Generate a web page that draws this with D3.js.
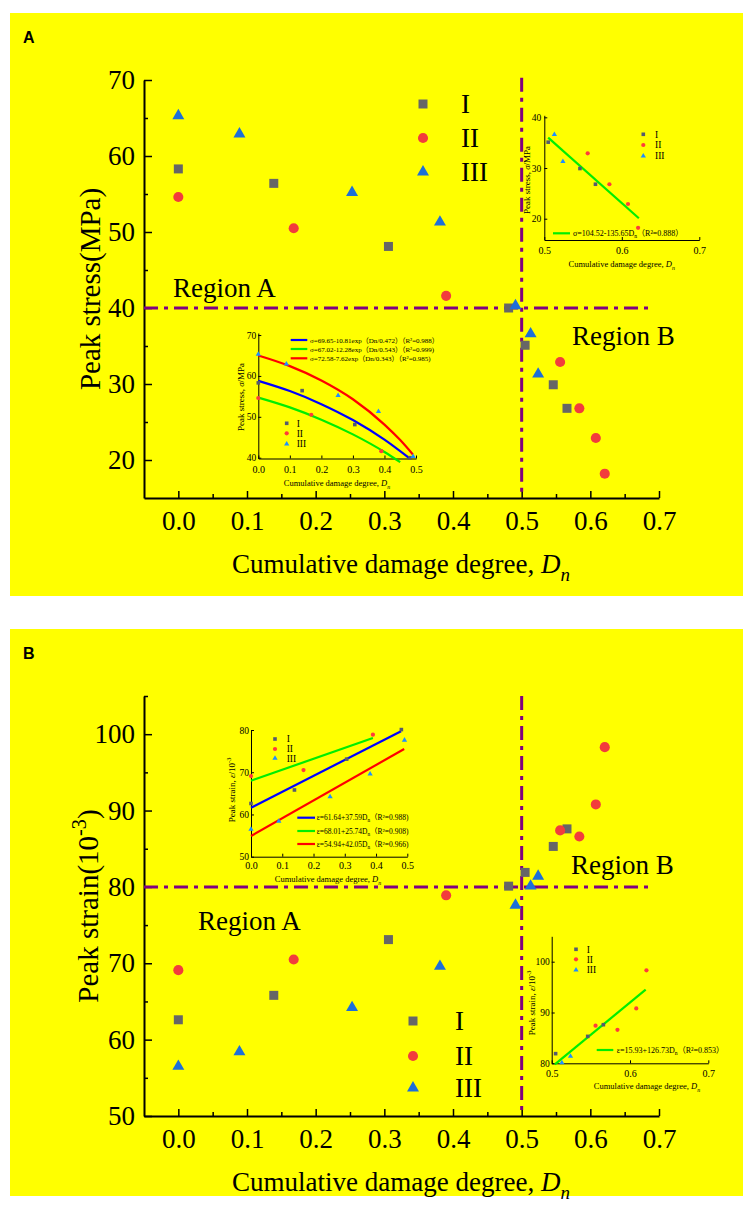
<!DOCTYPE html>
<html><head><meta charset="utf-8">
<script src="https://cdn.jsdelivr.net/npm/d3@7"></script>
<style>body{margin:0;background:#fff;} svg{display:block}</style>
</head><body>
<script>
// ---------------- DATA ----------------
const seriesNames = ["I", "II", "III"];
const dnI   = [0, 0.139, 0.306, 0.481, 0.505, 0.546, 0.566];
const dnII  = [0, 0.168, 0.390, 0.556, 0.584, 0.608, 0.621];
const dnIII = [0, 0.089, 0.253, 0.381, 0.491, 0.513, 0.524];
const stressI   = [58.3, 56.4, 48.1, 40.0, 35.1, 29.9, 26.8];
const stressII  = [54.6, 50.5, 41.6, 32.9, 26.8, 22.9, 18.2];
const stressIII = [65.3, 62.9, 55.2, 51.3, 40.3, 36.6, 31.3];
const strainI   = [62.6, 65.8, 73.1, 80.1, 81.9, 85.3, 87.6];
const strainII  = [69.1, 70.5, 78.9, 87.4, 86.6, 90.8, 98.3];
const strainIII = [56.5, 58.4, 64.2, 69.6, 77.6, 80.1, 81.4];

const xTickVals = [0, 0.1, 0.2, 0.3, 0.4, 0.5, 0.6, 0.7];
const xMinorVals = [0.05, 0.15, 0.25, 0.35, 0.45, 0.55, 0.65];
const stressTicks = [20, 30, 40, 50, 60, 70];
const stressMinor = [25, 35, 45, 55, 65];
const strainTicks = [50, 60, 70, 80, 90, 100];
const strainMinor = [55, 65, 75, 85, 95, 105];
const dnBoundary = 0.5;
const stressBoundary = 40;
const strainBoundary = 80;

// fitted curves, points
const fitStressA_I_dn   = [0, 0.1, 0.2, 0.3, 0.4, 0.48];
const fitStressA_I      = [58.8, 56.3, 53.1, 49.2, 44.4, 39.8];
const fitStressA_II_dn  = [0, 0.1, 0.2, 0.3, 0.4, 0.45];
const fitStressA_II     = [54.7, 52.3, 49.3, 45.7, 41.4, 38.9];
const fitStressA_III_dn = [0, 0.1, 0.2, 0.3, 0.4, 0.45, 0.49];
const fitStressA_III    = [65.0, 62.4, 58.9, 54.3, 48.1, 44.3, 40.8];
const fitStressB_dn = [0.505, 0.622];
const fitStressB    = [36.0, 20.1];
const fitStrainA_I_dn   = [0, 0.48];
const fitStrainA_I      = [61.6, 79.7];
const fitStrainA_II_dn  = [0, 0.39];
const fitStrainA_II     = [68.0, 78.1];
const fitStrainA_III_dn = [0, 0.49];
const fitStrainA_III    = [54.9, 75.5];
const fitStrainB_dn = [0.504, 0.62];
const fitStrainB    = [79.8, 94.5];

const fitLabelsStressA = ["σ=69.65-10.81exp（Dn/0.472）（R²=0.988）",
                          "σ=67.02-12.28exp（Dn/0.543）（R²=0.999)",
                          "σ=72.58-7.62exp（Dn/0.343）（R²=0.985)"];
const fitLabelStressB = ["σ=104.52-135.65D", "n", "（R²=0.888）"];
const fitLabelsStrainA = [["ε=61.64+37.59D", "n", "（R²=0.988)"],
                          ["ε=68.01+25.74D", "n", "（R²=0.908)"],
                          ["ε=54.94+42.05D", "n", "（R²=0.966)"]];
const fitLabelStrainB = ["ε=15.93+126.73D", "n", "（R²=0.853）"];

// ---------------- SETUP ----------------
const W = 753, H = 1206;
const svg = d3.select("body").append("svg").attr("width", W).attr("height", H);
const serif = "'Liberation Serif','Times New Roman','Noto Sans CJK SC',serif";
const purple = "#800080";
const colors = ["#666666", "#f23c3c", "#1d6fd8"];
const insetColors = ["#555b6e", "#ff3b3b", "#1e8fff"];
const symTypes = [d3.symbolSquare, d3.symbolCircle, d3.symbolTriangle];
const mainSizes = [81, 80, 62];
const insetSizes = [13, 14, 12];
const fitColors = ["#0000ff", "#00ee00", "#ff0000"];

function rich(t, segs, fs) {
  let shift = 0;
  segs.forEach(s => {
    const ts = t.append("tspan").text(s.t);
    if (s.i) ts.attr("font-style", "italic");
    const target = s.sub ? fs * 0.3 : (s.sup ? -fs * 0.4 : 0);
    if (target !== shift) { ts.attr("dy", target - shift); shift = target; }
    if (s.sub || s.sup) ts.attr("font-size", fs * 0.7);
  });
}
function sym(g, i, size, color, px, py) {
  g.append("path").attr("d", d3.symbol(symTypes[i], size)())
    .attr("transform", `translate(${px},${py})`).attr("fill", color);
}
function mkPts(dns, vals) { return dns.map((d, j) => ({dn: d, v: vals[j]})); }
function pairs(dns, vals) { return dns.map((d, j) => [d, vals[j]]); }

function styleAxis(a, fs, sw) {
  a.selectAll("path.domain").attr("stroke", "#000").attr("stroke-width", sw);
  a.selectAll(".tick line").attr("stroke", "#000").attr("stroke-width", Math.max(1, sw * 0.75));
  a.selectAll("text").attr("font-family", serif).attr("font-size", fs).attr("fill", "#000");
}

// ---------------- MAIN PANEL ----------------
function panel(o) {
  const g = svg.append("g");
  g.append("rect").attr("x", 10).attr("y", o.top).attr("width", 733).attr("height", o.h).attr("fill", "#ffff00");
  g.append("text").attr("x", 23).attr("y", o.top + 30).text(o.letter)
    .attr("font-family", "'Liberation Sans',Arial,sans-serif").attr("font-weight", "bold").attr("font-size", 16);

  const x = d3.scaleLinear().domain([-0.05, 0.7]).range([144, 659]);
  const y = d3.scaleLinear().domain(o.yDomain).range([o.yBottom, o.yTop]);

  // axes
  const xa = g.append("g").attr("transform", `translate(0,${o.yBottom})`)
    .call(d3.axisBottom(x).tickValues(xTickVals).tickSize(-7).tickSizeOuter(0).tickPadding(13).tickFormat(d3.format(".1f")));
  styleAxis(xa, 27, 2);
  xa.selectAll("text").attr("dy", null).attr("y", 32);
  const xm = g.append("g").attr("transform", `translate(0,${o.yBottom})`)
    .call(d3.axisBottom(x).tickValues(xMinorVals).tickSize(-4).tickSizeOuter(0).tickFormat(""));
  xm.select("path.domain").remove(); styleAxis(xm, 27, 2);

  const ya = g.append("g").attr("transform", `translate(144,0)`)
    .call(d3.axisLeft(y).tickValues(o.yTicks).tickSize(-8).tickSizeOuter(0).tickPadding(9).tickFormat(d3.format("d")));
  styleAxis(ya, 27, 2);
  const ym = g.append("g").attr("transform", `translate(144,0)`)
    .call(d3.axisLeft(y).tickValues(o.yMinor).tickSize(-4).tickSizeOuter(0).tickFormat(""));
  ym.select("path.domain").remove(); styleAxis(ym, 27, 2);

  // axis titles
  const xt = g.append("text").attr("x", 401).attr("y", o.yBottom + 75).attr("text-anchor", "middle")
    .attr("font-family", serif).attr("font-size", 27);
  rich(xt, [{t: "Cumulative damage degree, "}, {t: "D", i: true}, {t: "n", i: true, sub: true}], 27);
  const yt = g.append("text").attr("transform", `translate(${o.yTitleX},${(o.yBottom + o.yTop) / 2}) rotate(-90)`)
    .attr("text-anchor", "middle").attr("font-family", serif).attr("font-size", 29);
  rich(yt, o.yTitle, 29);

  // insets
  o.insets.forEach(ins => inset(g, ins));

  // boundary lines
  g.append("line").attr("x1", x(-0.05)).attr("x2", x(0.69)).attr("y1", y(o.boundary)).attr("y2", y(o.boundary))
    .attr("stroke", purple).attr("stroke-width", 3).attr("stroke-dasharray", "14,6,4,6");
  g.append("line").attr("x1", x(dnBoundary)).attr("x2", x(dnBoundary)).attr("y1", y(o.vTop)).attr("y2", y(o.yDomain[0]))
    .attr("stroke", purple).attr("stroke-width", 3).attr("stroke-dasharray", "14,6,4,6");

  // region labels
  g.append("text").attr("x", o.regA[0]).attr("y", o.regA[1]).text("Region A").attr("font-family", serif).attr("font-size", 27);
  g.append("text").attr("x", o.regB[0]).attr("y", o.regB[1]).text("Region B").attr("font-family", serif).attr("font-size", 27);

  // markers
  o.series.forEach((s, i) => {
    s.forEach(p => sym(g, i, mainSizes[i], colors[i], x(p.dn), y(p.v)));
  });

  // legend
  seriesNames.forEach((n, i) => {
    sym(g, i, mainSizes[i], colors[i], o.leg.x, o.leg.ys[i]);
    g.append("text").attr("x", o.leg.tx).attr("y", o.leg.ys[i] + 9).text(n)
      .attr("font-family", serif).attr("font-size", 27);
  });
}

// ---------------- INSET ----------------
function inset(g, o) {
  const x = d3.scaleLinear().domain(o.xd).range(o.xr);
  const y = d3.scaleLinear().domain(o.yd).range(o.yr);
  const xa = g.append("g").attr("transform", `translate(0,${o.yr[0]})`)
    .call(d3.axisBottom(x).tickValues(o.xt).tickSize(-3).tickSizeOuter(0).tickPadding(o.xPad).tickFormat(d3.format(".1f")));
  styleAxis(xa, 10, 1);
  const ya = g.append("g").attr("transform", `translate(${o.xr[0]},0)`)
    .call(d3.axisLeft(y).tickValues(o.yt).tickSize(-3).tickSizeOuter(0).tickPadding(o.yPad).tickFormat(d3.format("d")));
  styleAxis(ya, 9.5, 1);

  const xt = g.append("text").attr("x", o.xTitle[0]).attr("y", o.xTitle[1]).attr("text-anchor", "middle")
    .attr("font-family", serif).attr("font-size", 8.5);
  rich(xt, [{t: "Cumulative damage degree, "}, {t: "D", i: true}, {t: "n", i: true, sub: true}], 8.5);
  const yt = g.append("text").attr("transform", `translate(${o.yTitle[0]},${o.yTitle[1]}) rotate(-90)`)
    .attr("text-anchor", "middle").attr("font-family", serif).attr("font-size", 9);
  rich(yt, o.yTitleSegs, 9);

  const line = d3.line().x(d => x(d[0])).y(d => y(d[1])).curve(d3.curveMonotoneX);
  o.fits.forEach(f => {
    g.append("path").datum(f.pts).attr("d", line).attr("fill", "none").attr("stroke", f.color).attr("stroke-width", 2.2);
  });

  o.series.forEach((s, i) => {
    s.filter(o.filter).forEach(p => sym(g, i, insetSizes[i], insetColors[i], x(p.dn), y(p.v)));
  });

  // series legend
  seriesNames.forEach((n, i) => {
    sym(g, i, insetSizes[i], insetColors[i], o.leg.x, o.leg.ys[i]);
    g.append("text").attr("x", o.leg.tx).attr("y", o.leg.ys[i] + 3.2).text(n)
      .attr("font-family", serif).attr("font-size", 9.5);
  });
  // fit legend
  o.fitLeg.forEach((fl, k) => {
    g.append("line").attr("x1", fl.x1).attr("x2", fl.x2).attr("y1", fl.y).attr("y2", fl.y)
      .attr("stroke", fl.color).attr("stroke-width", 2.2);
    const t = g.append("text").attr("x", fl.tx).attr("y", fl.y + 2.5).attr("font-family", serif).attr("font-size", fl.fs);
    if (typeof fl.label === "string") rich(t, [{t: fl.label}], fl.fs);
    else rich(t, [{t: fl.label[0]}, {t: fl.label[1], sub: true}, {t: fl.label[2]}], fl.fs);
  });
}

const stressSeries = [mkPts(dnI, stressI), mkPts(dnII, stressII), mkPts(dnIII, stressIII)];
const strainSeries = [mkPts(dnI, strainI), mkPts(dnII, strainII), mkPts(dnIII, strainIII)];
const inA = p => p.dn < dnBoundary, inB = p => p.dn >= dnBoundary;
const stressTitleSegs = [{t: "Peak stress, "}, {t: "σ", i: true}, {t: "/MPa"}];
const strainTitleSegs = [{t: "Peak strain, "}, {t: "ε", i: true}, {t: "/10"}, {t: "-3", sup: true}];

panel({
  top: 13, h: 583, letter: "A", yDomain: [15, 70], yBottom: 498, yTop: 80,
  yTicks: stressTicks, yMinor: stressMinor, yTitleX: 100, boundary: stressBoundary, vTop: 70.3,
  yTitle: [{t: "Peak stress(MPa)"}],
  regA: [173, 297], regB: [572, 345],
  series: stressSeries,
  leg: {x: 423, tx: 461, ys: [104, 138, 172]},
  insets: [
    {xd: [0, 0.5], xr: [258.3, 416], yd: [39.8, 70.5], yr: [458.5, 333],
     xt: [0, 0.1, 0.2, 0.3, 0.4, 0.5], yt: [40, 50, 60, 70], xPad: 7, yPad: 2,
     xTitle: [337, 486], yTitle: [244, 397], yTitleSegs: stressTitleSegs,
     fits: [{pts: pairs(fitStressA_I_dn, fitStressA_I), color: fitColors[0]},
            {pts: pairs(fitStressA_II_dn, fitStressA_II), color: fitColors[1]},
            {pts: pairs(fitStressA_III_dn, fitStressA_III), color: fitColors[2]}],
     series: stressSeries, filter: inA,
     leg: {x: 286.7, tx: 296.7, ys: [423.3, 433.3, 444]},
     fitLeg: fitLabelsStressA.map((l, k) => ({x1: 290.7, x2: 307.3, y: [340, 349, 358.3][k], tx: 310, color: fitColors[k], label: l, fs: 7}))},
    {xd: [0.5, 0.7], xr: [544.3, 699.3], yd: [15.8, 40.4], yr: [240, 115.3],
     xt: [0.5, 0.6, 0.7], yt: [20, 30, 40], xPad: 7, yPad: 3,
     xTitle: [621.7, 267], yTitle: [530, 180], yTitleSegs: stressTitleSegs,
     fits: [{pts: pairs(fitStressB_dn, fitStressB), color: fitColors[1]}],
     series: stressSeries, filter: inB,
     leg: {x: 643.3, tx: 655, ys: [134.3, 145, 156]},
     fitLeg: [{x1: 553, x2: 570, y: 233.3, tx: 573, color: fitColors[1], label: fitLabelStressB, fs: 8}]}
  ]
});

panel({
  top: 629, h: 567, letter: "B", yDomain: [50, 105], yBottom: 1116, yTop: 696,
  yTicks: strainTicks, yMinor: strainMinor, yTitleX: 98, boundary: strainBoundary, vTop: 105,
  yTitle: [{t: "Peak strain(10"}, {t: "-3", sup: true}, {t: ")"}],
  regA: [198, 930], regB: [571, 874],
  series: strainSeries,
  leg: {x: 413, tx: 455, ys: [1021, 1056, 1088]},
  insets: [
    {xd: [0, 0.5], xr: [251, 407.3], yd: [50, 80], yr: [856.7, 730],
     xt: [0, 0.1, 0.2, 0.3, 0.4, 0.5], yt: [50, 60, 70, 80], xPad: 5.5, yPad: 2,
     xTitle: [328, 882], yTitle: [235, 790], yTitleSegs: strainTitleSegs,
     fits: [{pts: pairs(fitStrainA_I_dn, fitStrainA_I), color: fitColors[0]},
            {pts: pairs(fitStrainA_II_dn, fitStrainA_II), color: fitColors[1]},
            {pts: pairs(fitStrainA_III_dn, fitStrainA_III), color: fitColors[2]}],
     series: strainSeries, filter: inA,
     leg: {x: 275, tx: 286.7, ys: [739, 749, 758.3]},
     fitLeg: fitLabelsStrainA.map((l, k) => ({x1: 297.3, x2: 315, y: [817.7, 831, 844][k], tx: 316.7, color: fitColors[k], label: l, fs: 7.5}))},
    {xd: [0.5, 0.7], xr: [551.7, 708.3], yd: [80, 105], yr: [1063.3, 936.3],
     xt: [0.5, 0.6, 0.7], yt: [80, 90, 100], xPad: 6.5, yPad: 2,
     xTitle: [647, 1089], yTitle: [535, 1003], yTitleSegs: strainTitleSegs,
     fits: [{pts: pairs(fitStrainB_dn, fitStrainB), color: fitColors[1]}],
     series: strainSeries, filter: inB,
     leg: {x: 576, tx: 586.7, ys: [949.3, 959.3, 970]},
     fitLeg: [{x1: 596.7, x2: 613.3, y: 1050, tx: 616.7, color: fitColors[1], label: fitLabelStrainB, fs: 8}]}
  ]
});
</script>
</body></html>
